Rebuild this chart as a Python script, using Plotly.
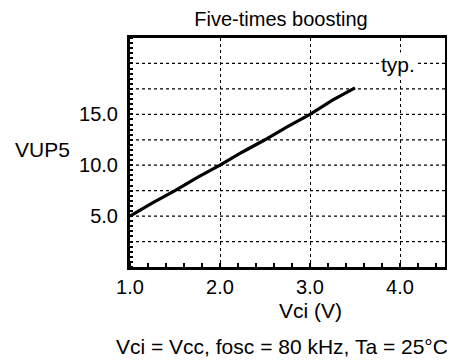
import plotly.graph_objects as go

vci = [1.0, 1.25, 1.5, 1.75, 2.0, 2.25, 2.5, 2.75, 3.0, 3.25, 3.5]
vup5 = [5.0, 6.3, 7.5, 8.8, 10.0, 11.3, 12.5, 13.8, 15.0, 16.4, 17.6]
x_ticks = [1.0, 2.0, 3.0, 4.0]
x_tick_labels = ["1.0", "2.0", "3.0", "4.0"]
y_ticks = [5.0, 10.0, 15.0]
y_tick_labels = ["5.0", "10.0", "15.0"]
grid_y = [2.5, 5.0, 7.5, 10.0, 12.5, 15.0, 17.5, 20.0]

FONT = "Liberation Sans, Arial, sans-serif"
FS_TICK = 20
FS_TEXT = 21

# page has 8px body margin; figure sized so it fits the 455x364 window
OFF = 8
W, H = 455 - OFF, 364 - OFF
L, R, T, B = 130 - OFF, 445 - OFF, 38 - OFF, 267 - OFF


def to_paper(px, py):
    px, py = px - OFF, py - OFF
    return (px - L) / (R - L), (B - py) / (B - T)


fig = go.Figure()
for g in grid_y:
    fig.add_hline(y=g, line=dict(color="black", width=1.2, dash="dot"), layer="below")
fig.add_trace(go.Scatter(x=vci, y=vup5, mode="lines",
                         line=dict(color="black", width=3.2), showlegend=False))

tx, ty = 281 - OFF, 19 - OFF
fig.update_layout(
    width=W, height=H,
    margin=dict(l=L, r=W - R, t=T, b=H - B),
    paper_bgcolor="white", plot_bgcolor="white",
    font=dict(family=FONT, color="black", size=FS_TICK),
    title=dict(text="Five-times boosting", x=tx / W, xanchor="center", y=1 - ty / H,
               yanchor="middle", font=dict(size=20, family=FONT, color="black")),
)
fig.update_xaxes(
    range=[1.0, 4.5], tickvals=x_ticks, ticktext=x_tick_labels,
    showgrid=True, gridcolor="black", griddash="dot", gridwidth=1.2,
    showline=True, linecolor="black", linewidth=3, mirror=True,
    ticks="", tickfont=dict(size=FS_TICK, family=FONT), ticklabelstandoff=0,
    minor=dict(dtick=0.2, ticks="inside", ticklen=4, tickwidth=2, tickcolor="black", showgrid=False),
    zeroline=False, automargin=False,
)
fig.update_yaxes(
    range=[0, 22.5], tickvals=y_ticks, ticktext=y_tick_labels,
    showgrid=False,
    showline=True, linecolor="black", linewidth=3, mirror=True,
    ticks="", tickfont=dict(size=FS_TICK, family=FONT), ticklabelstandoff=5,
    minor=dict(dtick=0.5, ticks="inside", ticklen=3, tickwidth=2, tickcolor="black", showgrid=False),
    zeroline=False, automargin=False,
)

fig.add_annotation(x=3.98, y=19.9, xref="x", yref="y", text="typ.", showarrow=False,
                   font=dict(size=FS_TEXT, family=FONT), bgcolor="white", borderpad=0)

for text, (px, py) in [("VUP5", (42, 149)),
                       ("Vci (V)", (310, 310)),
                       ("Vci = Vcc, fosc = 80 kHz, Ta = 25°C", (282, 346))]:
    xp, yp = to_paper(px, py)
    fig.add_annotation(x=xp, y=yp, xref="paper", yref="paper", text=text,
                       showarrow=False, xanchor="center", yanchor="middle",
                       font=dict(size=FS_TEXT, family=FONT))

fig.write_html("out.html")
